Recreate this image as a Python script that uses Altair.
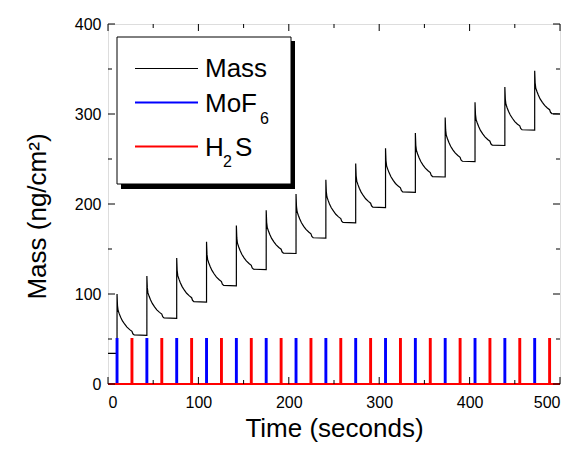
import altair as alt
import pandas as pd

FONT = "Liberation Sans"

# ---- data ----
X_DOMAIN = [0, 500]
Y_DOMAIN = [0, 400]
X_LABELS = [0, 100, 200, 300, 400, 500]
Y_LABELS = [0, 100, 200, 300, 400]
X_MINOR = [50, 150, 250, 350, 450]
Y_MINOR = [50, 150, 250, 350]

# MoF6 and H2S dose times (s), pulse height shown as 50
MOF6_TIMES = [10, 43, 76, 109, 142, 175, 208, 241, 274, 307, 340, 373, 406, 439, 472]
H2S_TIMES = [26.5, 59.5, 92.5, 125.5, 158.5, 191.5, 224.5, 257.5, 290.5, 323.5,
             356.5, 389.5, 422.5, 455.5, 488.5]
PULSE_HEIGHT = 50
PULSE_WIDTH = 1.0

# mass before the first dose
PRE_T = [0, 10]
PRE_M = [34, 34]

# time offsets (s) within each cycle, from the MoF6 dose
CYCLE_OFFSETS = [0, 0.5, 1.2, 2.5, 4, 6, 8.5, 11, 14, 16.5, 17.5, 19, 33]
# mass (ng/cm2) at those offsets, one list per cycle
MASS_CYCLES = [
    [100, 87.1, 81.6, 77.9, 74.2, 70.1, 66.4, 63.2, 60.4, 58.6, 55.8, 54.5, 54],
    [120, 106.8, 101.2, 97.4, 93.7, 89.5, 85.7, 82.4, 79.6, 77.7, 74.9, 73.5, 73],
    [140, 126.3, 120.4, 116.5, 112.6, 108.2, 104.2, 100.8, 97.9, 95.9, 93.0, 91.5, 91],
    [158, 144.3, 138.4, 134.5, 130.6, 126.2, 122.2, 118.8, 115.9, 113.9, 111.0, 109.5, 109],
    [176, 162.3, 156.4, 152.5, 148.6, 144.2, 140.2, 136.8, 133.9, 131.9, 129.0, 127.5, 127],
    [193, 179.6, 173.8, 170.0, 166.1, 161.8, 158.0, 154.6, 151.7, 149.8, 146.9, 145.5, 145],
    [211, 197.3, 191.4, 187.5, 183.6, 179.2, 175.2, 171.8, 168.9, 166.9, 164.0, 162.5, 162],
    [227, 213.6, 207.8, 204.0, 200.1, 195.8, 192.0, 188.6, 185.7, 183.8, 180.9, 179.5, 179],
    [245, 231.3, 225.4, 221.5, 217.6, 213.2, 209.2, 205.8, 202.9, 200.9, 198.0, 196.5, 196],
    [262, 248.3, 242.4, 238.5, 234.6, 230.2, 226.2, 222.8, 219.9, 217.9, 215.0, 213.5, 213],
    [279, 265.3, 259.4, 255.5, 251.6, 247.2, 243.2, 239.8, 236.9, 234.9, 232.0, 230.5, 230],
    [296, 282.3, 276.4, 272.5, 268.6, 264.2, 260.2, 256.8, 253.9, 251.9, 249.0, 247.5, 247],
    [313, 299.6, 293.8, 290.0, 286.1, 281.8, 278.0, 274.6, 271.7, 269.8, 266.9, 265.5, 265],
    [330, 316.6, 310.8, 307.0, 303.1, 298.8, 295.0, 291.6, 288.7, 286.8, 283.9, 282.5, 282],
    [348, 334.6, 328.8, 325.0, 321.1, 316.8, 313.0, 309.6, 306.7, 304.8, 301.9, 300.5, 300],
]

# ---- build tables ----
rows = []
for t, m in zip(PRE_T, PRE_M):
    rows.append({"t": t, "m": m})
for t0, vals in zip(MOF6_TIMES, MASS_CYCLES):
    for off, m in zip(CYCLE_OFFSETS, vals):
        rows.append({"t": min(t0 + off, X_DOMAIN[1]), "m": m})
mass_df = pd.DataFrame(rows)
mass_df["i"] = range(len(mass_df))


def pulses(times):
    r = [{"t": X_DOMAIN[0], "m": 0}]
    h = PULSE_WIDTH / 2
    for t in times:
        r += [{"t": t - h, "m": 0}, {"t": t - h, "m": PULSE_HEIGHT},
              {"t": t + h, "m": PULSE_HEIGHT}, {"t": t + h, "m": 0}]
    r.append({"t": X_DOMAIN[1], "m": 0})
    d = pd.DataFrame(r)
    d["i"] = range(len(d))
    return d


mof_df = pulses(MOF6_TIMES)
h2s_df = pulses(H2S_TIMES)

W, H = 452, 360
xs = alt.Scale(domain=X_DOMAIN, nice=False, zero=False)
ys = alt.Scale(domain=Y_DOMAIN, nice=False)

x_axis = alt.Axis(values=X_LABELS, format="d", ticks=False, tickSize=0, domain=False,
                  grid=False, labelFontSize=16, labelPadding=10, labelFont=FONT,
                  labelColor="black", title="Time (seconds)", titleFont=FONT,
                  titleFontSize=26, titleFontWeight="normal", titleColor="black",
                  titleY=52, titleBaseline="alphabetic")
y_axis = alt.Axis(values=Y_LABELS, format="d", ticks=False, tickSize=0, domain=False,
                  grid=False, labelFontSize=16, labelPadding=7, labelFont=FONT,
                  labelColor="black", title="Mass (ng/cm²)", titleFont=FONT,
                  titleFontSize=26, titleFontWeight="normal", titleColor="black",
                  titleAngle=270, titleX=-63, titleY=192, titleAlign="center",
                  titleBaseline="alphabetic")

X = alt.X("t:Q", scale=xs, axis=x_axis)
Y = alt.Y("m:Q", scale=ys, axis=y_axis)

mass = alt.Chart(mass_df).mark_line(color="black", strokeWidth=1.2, clip=False).encode(
    x=X, y=Y, order="i:Q")
mof = alt.Chart(mof_df).mark_line(color="#0000ff", strokeWidth=2, clip=False).encode(
    x=X, y=Y, order="i:Q")
h2s = alt.Chart(h2s_df).mark_line(color="#ff0000", strokeWidth=2, clip=False).encode(
    x=X, y=Y, order="i:Q")

# inward ticks on all four sides
MAJ, MIN = 7, 4
xmaj = pd.DataFrame({"t": X_LABELS})
xmin = pd.DataFrame({"t": X_MINOR})
ymaj = pd.DataFrame({"m": Y_LABELS})
ymin = pd.DataFrame({"m": Y_MINOR})
tick_layers = []
for d, L in [(xmaj, MAJ), (xmin, MIN)]:
    tick_layers.append(alt.Chart(d).mark_rule(color="black", strokeWidth=1).encode(
        x=X, y=alt.value(H), y2=alt.value(H - L)))
    tick_layers.append(alt.Chart(d).mark_rule(color="black", strokeWidth=1).encode(
        x=X, y=alt.value(0), y2=alt.value(L)))
for d, L in [(ymaj, MAJ), (ymin, MIN)]:
    tick_layers.append(alt.Chart(d).mark_rule(color="black", strokeWidth=1).encode(
        y=Y, x=alt.value(0), x2=alt.value(L)))
    tick_layers.append(alt.Chart(d).mark_rule(color="black", strokeWidth=1).encode(
        y=Y, x=alt.value(W), x2=alt.value(W - L)))

# legend (drawn box with shadow)
one = pd.DataFrame({"a": [0]})
shadow = alt.Chart(one).mark_rect(color="black").encode(
    x=alt.value(13), x2=alt.value(187), y=alt.value(17), y2=alt.value(165))
box = alt.Chart(one).mark_rect(fill="white", stroke="black", strokeWidth=1).encode(
    x=alt.value(9), x2=alt.value(183), y=alt.value(13), y2=alt.value(160))
leg_lines = [
    alt.Chart(one).mark_rule(color="black", strokeWidth=1).encode(
        x=alt.value(27), x2=alt.value(90), y=alt.value(44.5)),
    alt.Chart(one).mark_rule(color="#0000ff", strokeWidth=2).encode(
        x=alt.value(27), x2=alt.value(90), y=alt.value(78.5)),
    alt.Chart(one).mark_rule(color="#ff0000", strokeWidth=2).encode(
        x=alt.value(27), x2=alt.value(90), y=alt.value(122.5)),
]


def txt(s, x, y, size):
    return alt.Chart(one).mark_text(text=s, font=FONT, fontSize=size, align="left",
                                    baseline="alphabetic", color="black").encode(
        x=alt.value(x), y=alt.value(y))


leg_text = [
    txt("Mass", 97, 52.7, 26),
    txt("MoF", 97, 87.7, 26),
    txt("6", 152, 100, 16),
    txt("H", 97, 131.7, 26),
    txt("2", 115, 143.3, 16),
    txt("S", 127, 131.7, 26),
]

chart = alt.layer(mass, mof, h2s, *tick_layers, shadow, box, *leg_lines, *leg_text).properties(
    width=W, height=H,
    autosize=alt.AutoSizeParams(type="none"),
    padding={"left": 100, "top": 16, "right": 8, "bottom": 59},
).configure_view(stroke="black", strokeWidth=1.5).configure(background="white")

chart.save("out.html", embed_options={"renderer": "svg", "actions": False})
